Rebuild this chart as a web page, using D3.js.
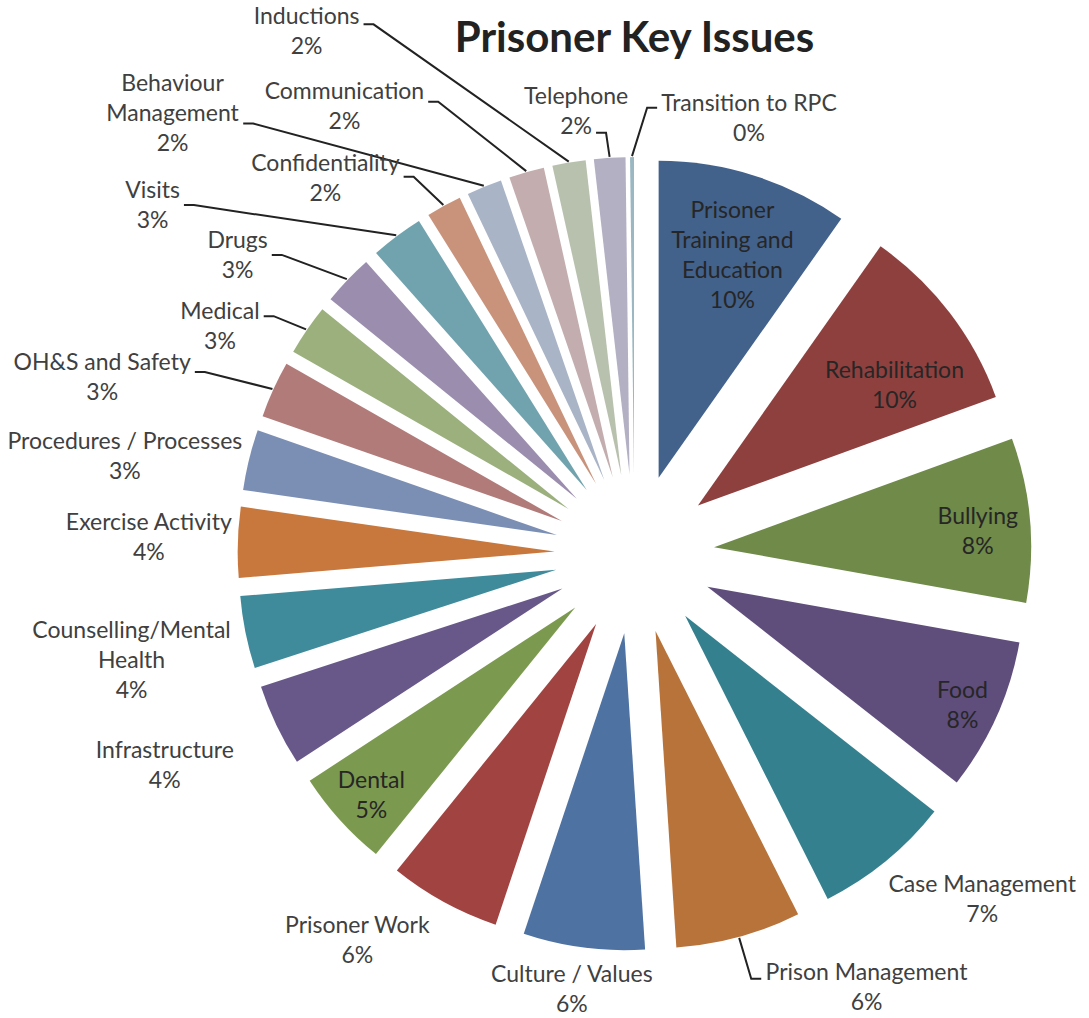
<!DOCTYPE html>
<html>
<head>
<meta charset="utf-8">
<script src="https://cdn.jsdelivr.net/npm/d3@7"></script>
<style>
  body { margin: 0; background: #fff; }
  .title { font-family: Lato, "Open Sans", sans-serif; font-weight: 700; font-size: 42px; fill: #222; }
  .lbl { font-family: Lato, "Open Sans", sans-serif; font-size: 23px; fill: #404040; }
  .lbl.inside { fill: #262626; }
  .leader { fill: none; stroke: #222; stroke-width: 2; }
</style>
</head>
<body>
<div id="chart"></div>
<script>
const categories = [
  "Prisoner Training and Education", "Rehabilitation", "Bullying", "Food",
  "Case Management", "Prison Management", "Culture / Values", "Prisoner Work",
  "Dental", "Infrastructure", "Counselling/Mental Health", "Exercise Activity",
  "Procedures / Processes", "OH&S and Safety", "Medical", "Drugs", "Visits",
  "Confidentiality", "Behaviour Management", "Communication", "Inductions",
  "Telephone", "Transition to RPC"
];
const counts = [98, 97, 84, 78, 70, 64, 62, 57, 50, 42, 37, 36, 31, 29, 26, 26, 27, 18, 18, 18, 17, 16, 2];
const sliceColors = [
  "#42618b", "#8e403e", "#6f8a49", "#5f4d7c", "#35808f", "#b8733b",
  "#4e72a2", "#a04341", "#7c9a4f", "#68588a", "#3f8b9b", "#c8783d",
  "#7b8eb4", "#b07b79", "#9bb07d", "#9a8dae", "#71a3ae", "#c9937b",
  "#a9b4c7", "#c4adae", "#b8c1ae", "#b3b0c4", "#9bb8c2"
];

// names that wrap onto several lines
const labelBreaks = {
  "Prisoner Training and Education": ["Prisoner", "Training and", "Education"],
  "Counselling/Mental Health": ["Counselling/Mental", "Health"],
  "Behaviour Management": ["Behaviour", "Management"]
};
const insideLabels = ["Prisoner Training and Education", "Rehabilitation", "Bullying", "Food", "Dental"];

// label placement: [angle deg, distance from pie centre, leader attach dy, attach line]
const labelSpots = {
  "Prisoner Training and Education": [18.1, 315],
  "Rehabilitation": [57.0, 310],
  "Bullying": [86.2, 344],
  "Food": [114.7, 361],
  "Dental": [227.5, 357],
  "Inductions": [327.9, 617, -7],
  "Communication": [327.1, 534, -4],
  "Behaviour Management": [313.7, 639, 11],
  "Confidentiality": [320.6, 487, -1],
  "Visits": [305.9, 595, 0],
  "Drugs": [307.0, 497, 0],
  "Medical": [298.8, 473, -10],
  "OH&S and Safety": [288.4, 561, -5],
  "Telephone": [352.5, 447, 22, 1],
  "Transition to RPC": [14.7, 451, -10],
  "Prison Management": [151.8, 491, -8],
  "Prisoner Work": [215.7, 475],
  "Culture / Values": [188.2, 439],
  "Case Management": [134.8, 490],
  "Infrastructure": [245.8, 515],
  "Counselling/Mental Health": [258.1, 514],
  "Exercise Activity": [272.0, 486],
  "Procedures / Processes": [280.9, 519]
};
const withLeader = ["Inductions", "Communication", "Behaviour Management", "Confidentiality",
  "Visits", "Drugs", "Medical", "OH&S and Safety", "Telephone", "Transition to RPC", "Prison Management"];

const width = 1089, height = 1018;
const cx = 634.5, cy = 554;
const radius = 317;
const explode = radius * 0.252;
const lineH = 30;

const data = categories.map((c, i) => ({ name: c, value: counts[i], color: sliceColors[i] }));
const total = d3.sum(counts);
const pct = d3.format(".0%");

const svg = d3.select("#chart").append("svg")
  .attr("width", width)
  .attr("height", height);

svg.append("text")
  .attr("class", "title")
  .attr("x", cx)
  .attr("y", 52)
  .attr("text-anchor", "middle")
  .text("Prisoner Key Issues");

const pie = d3.pie().sort(null).value(d => d.value);
const arc = d3.arc().innerRadius(0).outerRadius(radius);
const arcs = pie(data);

const unit = a => [Math.sin(a), -Math.cos(a)];
const mid = d => (d.startAngle + d.endAngle) / 2;

const g = svg.append("g").attr("transform", `translate(${cx},${cy})`);

g.selectAll("path.slice")
  .data(arcs)
  .enter()
  .append("path")
  .attr("class", "slice")
  .attr("transform", d => {
    const u = unit(mid(d));
    return `translate(${u[0] * explode},${u[1] * explode})`;
  })
  .attr("d", arc)
  .attr("fill", d => d.data.color);

const leaders = g.append("g");
const labels = g.append("g");

arcs.forEach(d => {
  const name = d.data.name;
  const lines = (labelBreaks[name] || [name]).concat([pct(d.data.value / total)]);
  const inside = insideLabels.includes(name);

  const lg = labels.append("g");
  const txt = lg.append("text")
    .attr("class", inside ? "lbl inside" : "lbl")
    .attr("text-anchor", "middle");
  const y0 = -(lines.length - 1) * lineH / 2;
  const spans = lines.map((s, i) => txt.append("tspan")
    .attr("x", 0)
    .attr("y", y0 + i * lineH)
    .attr("dy", "0.35em")
    .text(s));

  const box = txt.node().getBBox();
  const a = mid(d);
  const u = unit(a);
  const half = box.width / 2 * Math.abs(u[0]) + box.height / 2 * Math.abs(u[1]);
  let px, py;

  if (labelSpots[name]) {
    const s = labelSpots[name];
    const v = unit(s[0] * Math.PI / 180);
    px = v[0] * s[1]; py = v[1] * s[1];
  } else if (inside) {
    // inside end: push the label out until it touches the outer arc
    const r = radius + explode - half - 5;
    px = u[0] * r; py = u[1] * r;
  } else {
    const r = radius + explode + half + 5;
    px = u[0] * r; py = u[1] * r;
  }
  lg.attr("transform", `translate(${px},${py})`);

  if (withLeader.includes(name)) {
    const s = labelSpots[name];
    const tip = [u[0] * (radius + explode + 1), u[1] * (radius + explode + 1)];
    const halfW = s[3] !== undefined
      ? spans[s[3]].node().getComputedTextLength() / 2
      : box.width / 2;
    const ay = py + (s[2] || 0);
    const side = px < tip[0] ? 1 : -1;
    const start = [px + side * (halfW + 4), ay];
    const elbow = [start[0] + side * 10, ay];
    leaders.append("path")
      .attr("class", "leader")
      .attr("d", d3.line()([start, elbow, tip]));
  }
});
</script>
</body>
</html>
